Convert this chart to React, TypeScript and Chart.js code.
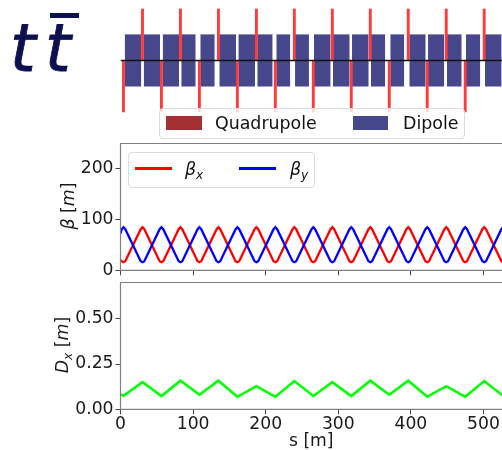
import React, { useEffect, useRef } from "react";
import { Chart, registerables } from "chart.js";

Chart.register(...registerables);

const FONT = "'DejaVu Sans'";
const TICK_COLOR = "#1a1a1a";
const SPINE = "#808080";

const xTicksMax = 525.5;

const quadS = [4.1, 30.3, 56.4, 82.6, 108.7, 134.9, 161, 187.2, 213.3, 239.5, 265.6, 291.8, 317.9, 344.1, 370.2, 396.4, 422.5, 448.7, 474.8, 501];
const quadDir = [-1, 1, -1, 1, -1, 1, -1, 1, -1, 1, -1, 1, -1, 1, -1, 1, -1, 1, -1, 1];

const dipoleStart = [5.8, 32, 58.1, 83.7, 109.9, 136.1, 162.3, 188.4, 214.6, 240.4, 266.5, 292.7, 318.9, 345, 371.6, 397.8, 423.6, 449.7, 475.7, 502.1];
const dipoleEnd = [28.7, 54.4, 80.6, 103.6, 129.8, 159.1, 185.3, 209.6, 233.9, 259.6, 289.5, 315.7, 341.9, 364.7, 390.9, 420.4, 446, 470, 495.6, 525];

const betaS = [0,
  1.6, 4.1, 6.6, 27.8, 30.3, 32.8, 53.9, 56.4, 58.9, 80.1, 82.6, 85.1, 106.2, 108.7, 111.2,
  132.4, 134.9, 137.4, 158.5, 161, 163.5, 184.7, 187.2, 189.7, 210.8, 213.3, 215.8, 237, 239.5, 242,
  263.1, 265.6, 268.1, 289.3, 291.8, 294.3, 315.4, 317.9, 320.4, 341.6, 344.1, 346.6, 367.7, 370.2, 372.7,
  393.9, 396.4, 398.9, 420, 422.5, 425, 446.2, 448.7, 451.2, 472.3, 474.8, 477.3, 498.5, 501, 503.5, 524.6, 527.1];
const betaX = [21,
  18, 16, 18, 81, 85, 81, 18, 16, 18, 81, 85, 81, 18, 16, 18,
  81, 85, 81, 18, 16, 18, 81, 85, 81, 18, 16, 18, 81, 85, 81,
  18, 16, 18, 81, 85, 81, 18, 16, 18, 81, 85, 81, 18, 16, 18,
  81, 85, 81, 18, 16, 18, 81, 85, 81, 18, 16, 18, 81, 85, 81, 18, 16];
const betaY = [72,
  81, 85, 81, 18, 16, 18, 81, 85, 81, 18, 16, 18, 81, 85, 81,
  18, 16, 18, 81, 85, 81, 18, 16, 18, 81, 85, 81, 18, 16, 18,
  81, 85, 81, 18, 16, 18, 81, 85, 81, 18, 16, 18, 81, 85, 81,
  18, 16, 18, 81, 85, 81, 18, 16, 18, 81, 85, 81, 18, 16, 18, 81, 85];

const dispS = [0, 4.1, 30.3, 56.4, 82.6, 108.7, 134.9, 161, 187.2, 213.3, 239.5, 265.6, 291.8, 317.9, 344.1, 370.2, 396.4, 422.5, 448.7, 474.8, 501, 527.1];
const dispX = [0.082, 0.075, 0.15, 0.073, 0.158, 0.08, 0.158, 0.069, 0.128, 0.069, 0.156, 0.074, 0.15, 0.073, 0.158, 0.08, 0.158, 0.069, 0.128, 0.069, 0.156, 0.074];

const xy = (xs: number[], ys: number[]) => xs.map((x, i) => ({ x, y: ys[i] }));

const spines = {
  id: "spines",
  afterDraw(chart: any) {
    const { left, right, top, bottom } = chart.chartArea;
    const c = chart.ctx;
    c.save();
    c.strokeStyle = SPINE;
    c.lineWidth = 1.2;
    c.beginPath();
    c.moveTo(right, top);
    c.lineTo(left, top);
    c.lineTo(left, bottom);
    c.lineTo(right, bottom);
    c.stroke();
    c.restore();
  },
};

const xScale = (labels: boolean, height: number, title?: string) => ({
  type: "linear",
  min: 0,
  max: xTicksMax,
  offset: false,
  afterFit: (s: any) => { s.height = height; },
  border: { display: false },
  grid: { drawOnChartArea: false, drawTicks: true, tickLength: 5, color: "#444", lineWidth: 1 },
  ticks: {
    stepSize: 100,
    includeBounds: false,
    maxRotation: 0,
    display: labels,
    padding: 0,
    color: TICK_COLOR,
    font: { family: FONT, size: 17.2 },
  },
  title: title
    ? { display: true, text: title, color: TICK_COLOR, padding: { top: 0, bottom: -2 }, font: { family: FONT, size: 17.2 } }
    : { display: false },
});

const yScale = (max: number, step: number, dec: number) => ({
  type: "linear",
  min: 0,
  max,
  afterFit: (s: any) => { s.width = 120.5; },
  border: { display: false },
  grid: { drawOnChartArea: false, drawTicks: true, tickLength: 5, color: "#444", lineWidth: 1 },
  ticks: {
    stepSize: step,
    includeBounds: false,
    padding: 2,
    color: TICK_COLOR,
    font: { family: FONT, size: 17.2 },
    callback: (v: any) => Number(v).toFixed(dec),
  },
});

const noPlugins = { legend: { display: false }, tooltip: { enabled: false }, title: { display: false } };

function useChart(make: (el: HTMLCanvasElement) => any) {
  const ref = useRef<HTMLCanvasElement>(null);
  useEffect(() => {
    const chart = make(ref.current!);
    return () => chart.destroy();
  }, []);
  return ref;
}

const abs = (left: number, top: number): React.CSSProperties => ({ position: "absolute", left, top, display: "block" });

export default function App() {
  const latticeRef = useChart((el) => new Chart(el, {
    type: "line",
    data: {
      datasets: [
        {
          type: "line",
          data: [{ x: 0, y: 0 }, { x: xTicksMax, y: 0 }],
          borderColor: "#111",
          borderWidth: 1.3,
          pointRadius: 0,
          order: 0,
        },
        {
          type: "bar",
          data: quadS.map((s, i) => ({ x: s, y: [0, quadDir[i]] })),
          backgroundColor: "#ff3a3a",
          barThickness: 2.2,
          grouped: false,
          order: 1,
        },
        ...dipoleStart.map((s, i) => ({
          type: "line",
          data: [{ x: s, y: 0.505 }, { x: dipoleEnd[i], y: 0.505 }],
          borderColor: "#7a7aaa",
          borderWidth: 0.5,
          backgroundColor: "#47478c",
          fill: { value: -0.505 },
          pointRadius: 0,
          order: 2,
        })),
      ],
    } as any,
    options: {
      animation: false,
      responsive: false,
      layout: { padding: { left: 120.5, right: 0, top: 0, bottom: 0 } },
      plugins: noPlugins,
      scales: {
        x: { type: "linear", display: false, min: 0, max: xTicksMax, offset: false },
        y: { type: "linear", display: false, min: -1.175, max: 1.175 },
      },
    } as any,
  }));

  const betaRef = useChart((el) => new Chart(el, {
    type: "line",
    data: {
      datasets: [
        { label: "βx", data: xy(betaS, betaX), borderColor: "#ff0000", borderWidth: 2.3, pointRadius: 0, tension: 0, order: 1 },
        { label: "βy", data: xy(betaS, betaY), borderColor: "#0000ff", borderWidth: 2.3, pointRadius: 0, tension: 0, order: 0 },
      ],
    },
    options: {
      animation: false,
      responsive: false,
      layout: { padding: { top: 18.5, right: 0, left: 0, bottom: 0 } },
      plugins: noPlugins,
      scales: { x: xScale(false, 17.7), y: yScale(250, 100, 0) },
    } as any,
    plugins: [spines],
  }));

  const dispRef = useChart((el) => new Chart(el, {
    type: "line",
    data: {
      datasets: [
        { label: "Dx", data: xy(dispS, dispX), borderColor: "#00ff00", borderWidth: 2.5, pointRadius: 0, tension: 0 },
      ],
    },
    options: {
      animation: false,
      responsive: false,
      layout: { padding: { top: 20.5, right: 0, left: 0, bottom: 0 } },
      plugins: noPlugins,
      scales: { x: xScale(true, 40.7, "s [m]"), y: yScale(0.7, 0.25, 2) },
    } as any,
    plugins: [spines],
  }));

  const text: React.CSSProperties = { position: "absolute", fontFamily: FONT, fontSize: 17.4, color: TICK_COLOR, whiteSpace: "nowrap", lineHeight: "20px" };
  const legendBox: React.CSSProperties = {
    position: "absolute",
    boxSizing: "border-box",
    background: "rgba(255,255,255,0.8)",
    border: "1px solid #dcdcdc",
    borderRadius: 4,
  };
  const sub: React.CSSProperties = { fontSize: "70%", verticalAlign: "-0.3em", lineHeight: 0, fontStyle: "italic" };

  return (
    <div style={{ position: "absolute", left: 0, top: 0, width: 502, height: 450, overflow: "hidden", background: "#fff" }}>
      <canvas ref={latticeRef} width={502} height={121} style={abs(0, 0)} />
      <canvas ref={betaRef} width={502} height={163} style={abs(0, 125)} />
      <canvas ref={dispRef} width={502} height={188} style={abs(0, 262)} />

      <div style={{ position: "absolute", left: 10, top: 9, fontFamily: FONT, fontStyle: "oblique", fontSize: 66, lineHeight: "80px", color: "#0d1050", letterSpacing: 9, whiteSpace: "nowrap", WebkitTextStroke: "0.8px #0d1050" }}>tt</div>
      <div style={{ position: "absolute", left: 50, top: 13, width: 29, height: 5, background: "#0d1050" }} />

      <div style={{ ...legendBox, left: 159, top: 108, width: 306, height: 31 }} />
      <div style={{ position: "absolute", left: 166, top: 116, width: 36, height: 14, background: "#a33032" }} />
      <div style={{ ...text, left: 215, top: 113, color: "#111" }}>Quadrupole</div>
      <div style={{ position: "absolute", left: 353, top: 116, width: 35, height: 14, background: "#47478c" }} />
      <div style={{ ...text, left: 403, top: 113, color: "#111" }}>Dipole</div>

      <div style={{ ...legendBox, left: 128, top: 152, width: 187, height: 36 }} />
      <div style={{ position: "absolute", left: 135, top: 167, width: 37, height: 2.5, background: "#ff0000" }} />
      <div style={{ ...text, left: 185, top: 159, color: "#111" }}><i>β</i><span style={sub}>x</span></div>
      <div style={{ position: "absolute", left: 239, top: 167, width: 37, height: 2.5, background: "#0000ff" }} />
      <div style={{ ...text, left: 290, top: 159, color: "#111" }}><i>β</i><span style={sub}>y</span></div>

      <div style={{ ...text, left: 68, top: 206, transform: "translate(-50%,-50%) rotate(-90deg)" }}><i>β</i> [<i>m</i>]</div>
      <div style={{ ...text, left: 62, top: 345, transform: "translate(-50%,-50%) rotate(-90deg)" }}><i>D</i><span style={sub}>x</span> [<i>m</i>]</div>
    </div>
  );
}
